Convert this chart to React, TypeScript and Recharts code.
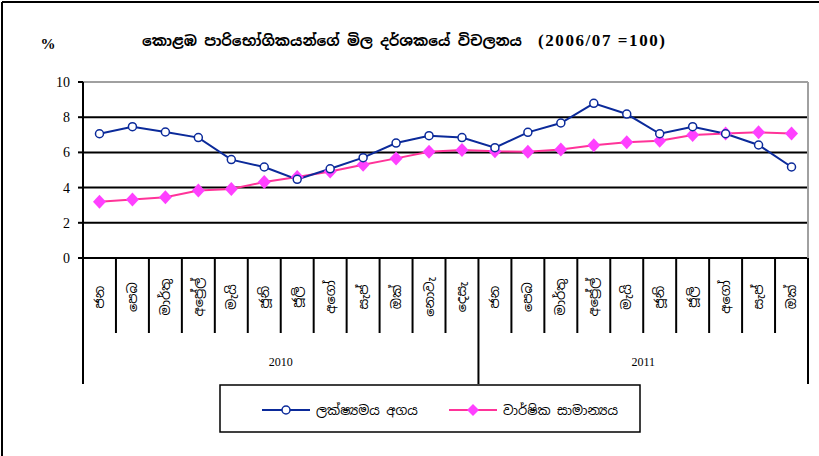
import { LineChart, Line, XAxis, YAxis, CartesianGrid, ReferenceLine } from "recharts";

const months = ["ජන", "පෙබ", "මාර්තු", "අප්‍රේල්", "මැයි", "ජූනි", "ජූලි", "අගෝ", "සැප්", "ඔක්", "නොවැ", "දෙසැ",
  "ජන", "පෙබ", "මාර්තු", "අප්‍රේල්", "මැයි", "ජූනි", "ජූලි", "අගෝ", "සැප්", "ඔක්"];
const years = [
  { label: "2010", first: 0, count: 12 },
  { label: "2011", first: 12, count: 10 },
];
const pointValue = [7.06, 7.46, 7.16, 6.84, 5.59, 5.17, 4.47, 5.07, 5.70, 6.53, 6.95, 6.84,
  6.27, 7.14, 7.67, 8.79, 8.18, 7.06, 7.46, 7.06, 6.42, 5.17];
const annualAvg = [3.20, 3.33, 3.45, 3.83, 3.92, 4.32, 4.60, 4.92, 5.30, 5.66, 6.04, 6.14,
  6.06, 6.04, 6.17, 6.40, 6.57, 6.66, 6.99, 7.08, 7.14, 7.08];
const yTicks = [0, 2, 4, 6, 8, 10];

const seriesNames = ["ලක්ෂ්‍යමය අගය", "වාර්ෂික සාමාන්‍යය"];
const title = "කොළඹ පාරිභෝගිකයන්ගේ මිල දර්ශකයේ විචලනය";
const titleBase = "(2006/07 =100)";

const data = months.map((m, i) => ({ month: m, idx: i, point: pointValue[i], avg: annualAvg[i] }));

const BLUE = "#0B2A9A";
const PINK_LINE = "#FF3399";
const PINK_MARK = "#FF40FF";
const SIN = "'Noto Sans Sinhala', 'Iskoola Pota', 'Noto Sans', sans-serif";
const SERIF = "'Liberation Serif', 'Times New Roman', serif";

const W = 819;
const H = 456;
const plotLeft = 83;
const plotRight = 808;
const plotTop = 82;
const plotHeight = 176;
const band = (plotRight - plotLeft) / months.length;

const MonthTick = (props: any) => {
  const { x, y, index } = props;
  const i = index ?? props.payload?.index ?? 0;
  const left = x - band / 2;
  const yrStart = years.find((yr) => yr.first === i);
  return (
    <g>
      <line x1={left} y1={y} x2={left} y2={y + (yrStart ? 126 : 75)} stroke="#000" strokeWidth={2} />
      <text
        x={x}
        y={y + 39}
        transform={`rotate(-90, ${x}, ${y + 39})`}
        textAnchor="middle"
        dominantBaseline="central"
        fontFamily={SIN}
        fontSize={13}
        fill="#000"
      >
        {months[i]}
      </text>
      {yrStart && (
        <text
          x={left + (yrStart.count * band) / 2}
          y={y + 108}
          textAnchor="middle"
          fontFamily={SERIF}
          fontSize={12}
          fill="#000"
        >
          {yrStart.label}
        </text>
      )}
      {i === months.length - 1 && (
        <>
          <line x1={x + band / 2} y1={y} x2={x + band / 2} y2={y + 126} stroke="#000" strokeWidth={2} />
          <line x1={x + band / 2} y1={y - plotHeight} x2={x + band / 2} y2={y} stroke="#A0A0A0" strokeWidth={2} />
        </>
      )}
    </g>
  );
};

const Diamond = (props: any) => {
  const { cx, cy } = props;
  if (cx == null || cy == null) return null;
  return <polygon points={`${cx},${cy - 7} ${cx + 6.5},${cy} ${cx},${cy + 7} ${cx - 6.5},${cy}`} fill={PINK_MARK} />;
};

export default function App() {
  return (
    <div style={{ position: "relative", width: W, height: H, background: "#fff" }}>
      <style>{"body{margin:0}"}</style>
      <LineChart
        width={W}
        height={H}
        data={data}
        margin={{ top: plotTop, right: W - plotRight, left: 0, bottom: 73 }}
      >
        <CartesianGrid horizontal vertical={false} stroke="#000" strokeWidth={2} horizontalValues={[2, 4, 6, 8]} />
        <ReferenceLine y={10} stroke="#A0A0A0" strokeWidth={2} />
        <XAxis
          dataKey="idx"
          type="category"
          scale="band"
          interval={0}
          height={125}
          tickLine={false}
          tickSize={0}
          tickMargin={0}
          axisLine={{ stroke: "#000", strokeWidth: 2 }}
          tick={<MonthTick />}
        />
        <YAxis
          domain={[0, 10]}
          ticks={yTicks}
          width={plotLeft}
          tickSize={5}
          tickMargin={8}
          axisLine={{ stroke: "#000", strokeWidth: 2 }}
          tickLine={{ stroke: "#000", strokeWidth: 2 }}
          tick={{ fontFamily: SERIF, fontSize: 14, fill: "#000" }}
        />
        <Line
          dataKey="avg"
          stroke={PINK_LINE}
          strokeWidth={2}
          dot={<Diamond />}
          isAnimationActive={false}
        />
        <Line
          dataKey="point"
          stroke={BLUE}
          strokeWidth={2}
          dot={{ r: 4, stroke: BLUE, strokeWidth: 1.5, fill: "#fff" }}
          isAnimationActive={false}
        />
      </LineChart>
      <svg width={W} height={H} style={{ position: "absolute", left: 0, top: 0, pointerEvents: "none" }}>
        <line x1={2} y1={2} x2={W} y2={2} stroke="#000" strokeWidth={2} />
        <line x1={2} y1={2} x2={2} y2={H} stroke="#000" strokeWidth={2} />
        <text x={48} y={49} fontFamily={SERIF} fontSize={15} fontWeight="bold" textAnchor="middle">%</text>
        <text x={142} y={46} fontSize={14.5} fontWeight="bold" fontFamily={SIN}>{title}</text>
        <text x={538} y={46} fontSize={17} fontWeight="bold" fontFamily={SERIF} textLength={127} lengthAdjust="spacing">
          {titleBase}
        </text>
        <rect x={220} y={385} width={420} height={47} fill="none" stroke="#000" strokeWidth={1.5} />
        <line x1={262} y1={410} x2={310} y2={410} stroke={BLUE} strokeWidth={2} />
        <circle cx={286} cy={410} r={4} stroke={BLUE} strokeWidth={1.5} fill="#fff" />
        <text x={316} y={415} fontFamily={SIN} fontSize={13}>{seriesNames[0]}</text>
        <line x1={449} y1={410} x2={497} y2={410} stroke={PINK_LINE} strokeWidth={2} />
        <polygon points="473,404 479,410 473,416 467,410" fill={PINK_MARK} />
        <text x={503} y={415} fontFamily={SIN} fontSize={13}>{seriesNames[1]}</text>
      </svg>
    </div>
  );
}
